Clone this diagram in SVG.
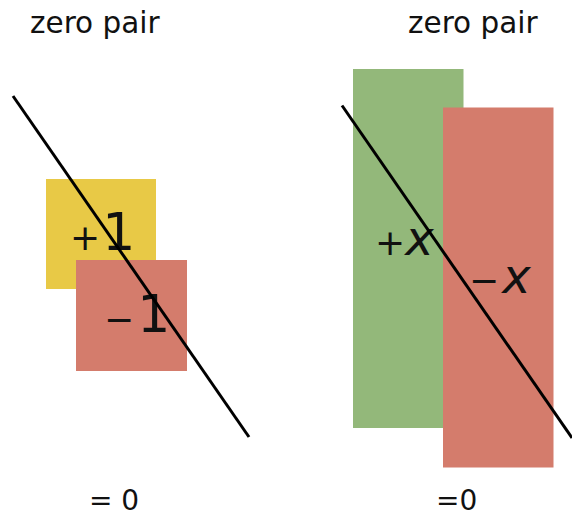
<svg xmlns="http://www.w3.org/2000/svg" width="572" height="510" viewBox="0 0 572 510">
<style>
.t{font-family:"DejaVu Sans",Verdana,sans-serif;fill:#111}
.cut{stroke:#000;stroke-width:3;fill:none}
.yel{fill:#E8C946}
.red{fill:#D47C6C}
.grn{fill:#93B87A}
</style>
<rect width="572" height="510" fill="#fff"/>
<text class="t" x="30" y="33" font-size="29.5">zero pair</text>
<text class="t" x="408" y="33" font-size="29.5">zero pair</text>
<g id="plus1">
<rect class="yel" x="46" y="179" width="110" height="110"/>
<text class="t" x="70" y="250"><tspan font-size="36">+</tspan><tspan font-size="52" dx="2">1</tspan></text>
</g>
<g id="minus1">
<rect class="red" x="76" y="260" width="111" height="111"/>
<text class="t" x="104" y="332"><tspan font-size="36">−</tspan><tspan font-size="52" dx="3">1</tspan></text>
</g>
<g id="plusx">
<rect class="grn" x="353" y="69" width="110.5" height="359"/>
<text class="t" x="375" y="255"><tspan font-size="36">+</tspan><tspan font-size="48" font-style="italic" dx="0">x</tspan></text>
</g>
<g id="minusx">
<rect class="red" x="443" y="107.5" width="110.5" height="360"/>
<text class="t" x="469" y="293"><tspan font-size="36">−</tspan><tspan font-size="48" font-style="italic" dx="3">x</tspan></text>
</g>
<g id="connectors">
<line class="cut" x1="13" y1="96" x2="249" y2="437"/>
<line class="cut" x1="342" y1="105.5" x2="572" y2="438"/>
</g>
<text class="t" x="89" y="510" font-size="28">= 0</text>
<text class="t" x="436" y="510" font-size="28">=0</text>
</svg>
